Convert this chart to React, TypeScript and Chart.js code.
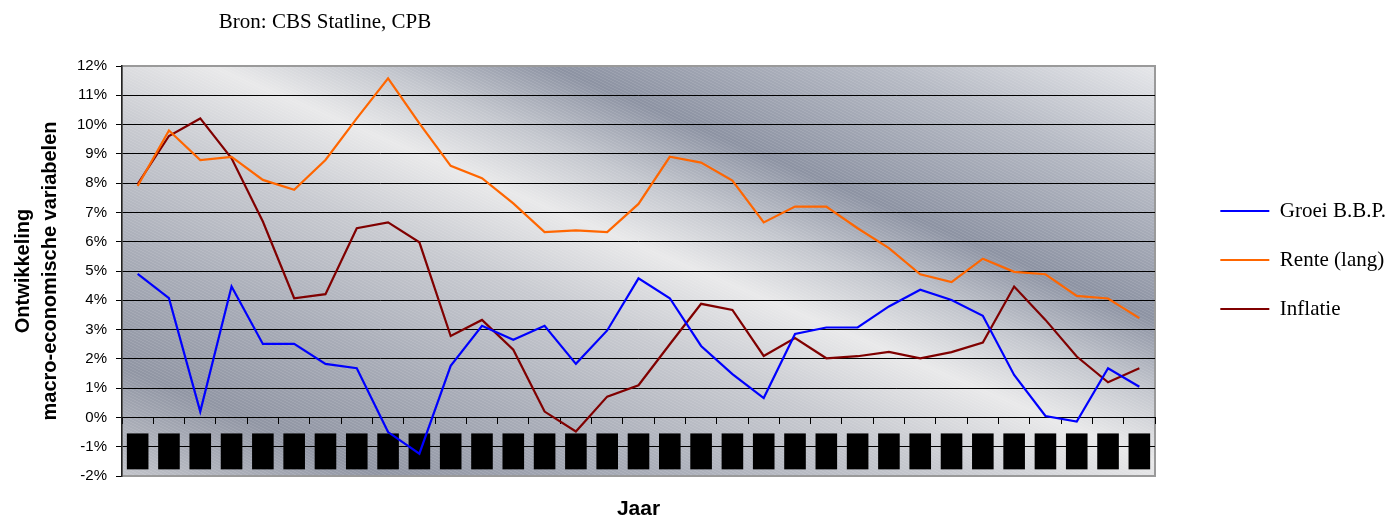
import React, { useEffect, useRef } from 'react';
import { Chart, registerables } from 'chart.js';

Chart.register(...registerables);

const sourceNote = 'Bron: CBS Statline, CPB';
const yTitleLines = ['Ontwikkeling', 'macro-economische variabelen'];
const xTitle = 'Jaar';

const years = [
  '1973', '1974', '1975', '1976', '1977', '1978', '1979', '1980', '1981', '1982', '1983',
  '1984', '1985', '1986', '1987', '1988', '1989', '1990', '1991', '1992', '1993', '1994',
  '1995', '1996', '1997', '1998', '1999', '2000', '2001', '2002', '2003', '2004', '2005',
];

const groeiBBP = [
  4.9, 4.07, 0.2, 4.47, 2.51, 2.51, 1.83, 1.68, -0.5, -1.24, 1.76,
  3.13, 2.65, 3.13, 1.83, 2.97, 4.75, 4.07, 2.44, 1.48, 0.66, 2.85,
  3.07, 3.07, 3.79, 4.36, 4.01, 3.47, 1.45, 0.05, -0.14, 1.68, 1.05,
];

const renteLang = [
  7.9, 9.8, 8.79, 8.9, 8.11, 7.77, 8.79, 10.21, 11.58, 10.04, 8.59,
  8.17, 7.31, 6.33, 6.39, 6.33, 7.29, 8.9, 8.7, 8.09, 6.66, 7.2,
  7.2, 6.46, 5.78, 4.89, 4.62, 5.42, 4.97, 4.89, 4.15, 4.06, 3.39,
];

const inflatie = [
  7.97, 9.61, 10.21, 8.85, 6.69, 4.07, 4.21, 6.46, 6.66, 5.98, 2.78,
  3.33, 2.31, 0.2, -0.48, 0.71, 1.1, 2.5, 3.88, 3.67, 2.1, 2.71,
  2.02, 2.09, 2.24, 2.02, 2.23, 2.56, 4.47, 3.33, 2.08, 1.2, 1.68,
];

const seriesNames = ['Groei B.B.P.', 'Rente (lang)', 'Inflatie'];
const seriesColors = ['#0000ff', '#ff6600', '#800000'];

const yMin = -2;
const yMax = 12;
const yStep = 1;

const SANS = '"Liberation Sans", Arial, sans-serif';
const SERIF = '"Liberation Serif", "Times New Roman", serif';

function makeTexture(): HTMLCanvasElement {
  const c = document.createElement('canvas');
  c.width = 6;
  c.height = 3;
  const x = c.getContext('2d');
  if (x) {
    x.fillStyle = 'rgba(255,255,255,0.10)';
    x.fillRect(0, 0, 2, 1);
    x.fillRect(2, 1, 2, 1);
    x.fillRect(4, 2, 2, 1);
  }
  return c;
}

const backgroundPlugin = {
  id: 'plotBackground',
  beforeDraw(chart: any) {
    const { ctx, chartArea } = chart;
    const { left, top, right, bottom } = chartArea;
    const s = 0.42;
    const nl = Math.sqrt(1 + s * s);
    const nx = -s / nl;
    const ny = 1 / nl;
    const L = (left - right) * nx + (bottom - top) * ny;
    const g = ctx.createLinearGradient(right, top, right + nx * L, top + ny * L);
    g.addColorStop(0, '#e6e7ea');
    g.addColorStop(0.14, '#b6bac4');
    g.addColorStop(0.3, '#8d93a3');
    g.addColorStop(0.39, '#c4c7ce');
    g.addColorStop(0.47, '#e9e9ea');
    g.addColorStop(0.58, '#c8cad0');
    g.addColorStop(0.73, '#a9adb8');
    g.addColorStop(0.87, '#9196a4');
    g.addColorStop(1, '#c2c4ca');
    ctx.save();
    ctx.fillStyle = g;
    ctx.fillRect(left, top, right - left, bottom - top);
    const pat = ctx.createPattern(makeTexture(), 'repeat');
    if (pat) {
      ctx.fillStyle = pat;
      ctx.fillRect(left, top, right - left, bottom - top);
    }
    ctx.strokeStyle = '#9a9a9a';
    ctx.lineWidth = 2;
    ctx.strokeRect(left, top, right - left, bottom - top);
    ctx.restore();
  },
  afterDraw(chart: any) {
    const { ctx, chartArea } = chart;
    ctx.save();
    ctx.font = `21px ${SERIF}`;
    ctx.fillStyle = '#000';
    ctx.textAlign = 'center';
    ctx.textBaseline = 'middle';
    ctx.fillText(sourceNote, chartArea.left + 203, 22);
    ctx.restore();
  },
};

export default function App() {
  const canvasRef = useRef<HTMLCanvasElement | null>(null);

  useEffect(() => {
    if (!canvasRef.current) return;
    const seriesData = [groeiBBP, renteLang, inflatie];
    const chart = new Chart(canvasRef.current, {
      type: 'line',
      data: {
        labels: years,
        datasets: seriesNames.map((name, i) => ({
          label: name,
          data: seriesData[i],
          borderColor: seriesColors[i],
          backgroundColor: seriesColors[i],
          borderWidth: 2.2,
          pointRadius: 0,
          pointHoverRadius: 0,
          tension: 0,
          fill: false,
        })),
      },
      options: {
        animation: false,
        responsive: true,
        maintainAspectRatio: false,
        layout: { padding: 0 },
        plugins: {
          tooltip: { enabled: false },
          title: { display: false },
          legend: {
            display: true,
            position: 'right',
            labels: {
              usePointStyle: true,
              pointStyle: 'line',
              pointStyleWidth: 49,
              color: '#000',
              padding: 28,
              font: { family: SERIF, size: 21 },
            },
          },
        },
        scales: {
          x: {
            type: 'category',
            position: { y: 0 },
            offset: true,
            grid: {
              display: true,
              offset: true,
              drawOnChartArea: false,
              drawTicks: true,
              tickLength: 6,
              color: '#000',
              tickColor: '#000',
            },
            border: { display: true, color: '#000', width: 1 },
            ticks: {
              autoSkip: false,
              minRotation: 90,
              maxRotation: 90,
              padding: 10,
              labelOffset: -7.8,
              color: '#000',
              font: { family: SANS, size: 13 },
              showLabelBackdrop: true,
              backdropColor: '#000',
              backdropPadding: { top: 3, bottom: 3, left: 7, right: 0 },
            },
          },
          y: {
            type: 'linear',
            position: 'left',
            min: yMin,
            max: yMax,
            grid: {
              display: true,
              drawTicks: true,
              tickLength: 6,
              lineWidth: 1,
              tickColor: '#000',
              color: (c: any) =>
                c.tick && (c.tick.value === yMax || c.tick.value === yMin) ? 'rgba(0,0,0,0)' : '#000',
            },
            border: { display: true, color: '#222', width: 1.5 },
            ticks: {
              stepSize: yStep,
              padding: 9,
              color: '#000',
              font: { family: SANS, size: 15 },
              callback: (v: any) => `${v}%`,
            },
            title: {
              display: true,
              text: yTitleLines,
              color: '#000',
              font: { family: SANS, size: 20, weight: 'bold', lineHeight: 1.35 },
              padding: { top: 10, bottom: 0 },
            },
            afterFit: (s: any) => {
              s.width = 122;
            },
          },
          x2: {
            type: 'linear',
            position: 'top',
            display: true,
            ticks: { display: false },
            grid: { display: false },
            border: { display: false },
            afterFit: (s: any) => {
              s.height = 66;
            },
          },
          x3: {
            type: 'linear',
            position: 'bottom',
            display: true,
            ticks: { display: false },
            grid: { display: false },
            border: { display: false },
            title: {
              display: true,
              text: xTitle,
              color: '#000',
              font: { family: SANS, size: 21, weight: 'bold', lineHeight: 1 },
              padding: { top: 0, bottom: 0 },
            },
            afterFit: (s: any) => {
              s.height = 44;
            },
          },
          y2: {
            type: 'linear',
            position: 'right',
            display: true,
            ticks: { display: false },
            grid: { display: false },
            border: { display: false },
            afterFit: (s: any) => {
              const lw = s.chart.legend ? s.chart.legend.width : 0;
              s.width = Math.max(0, s.chart.width - 1155 - lw);
            },
          },
        },
      } as any,
      plugins: [backgroundPlugin],
    });
    return () => chart.destroy();
  }, []);

  return (
    <div style={{ position: 'absolute', left: 0, top: 0, width: 1396, height: 520 }}>
      <canvas ref={canvasRef} />
    </div>
  );
}
